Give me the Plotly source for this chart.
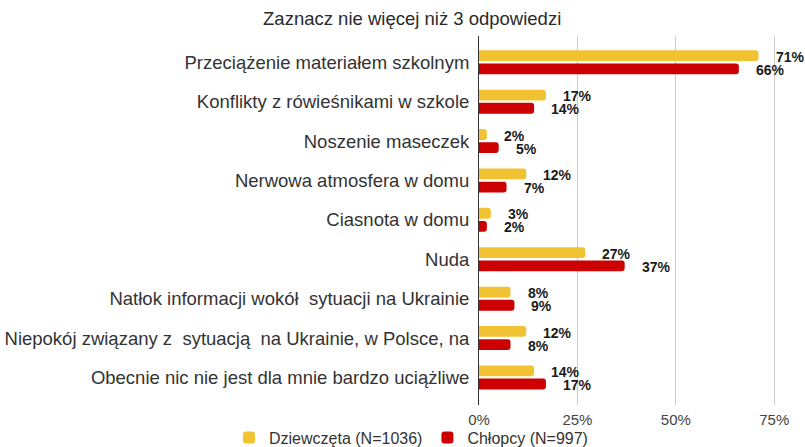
import plotly.graph_objects as go

categories = [
    "Przeciążenie materiałem szkolnym",
    "Konflikty z rówieśnikami w szkole",
    "Noszenie maseczek",
    "Nerwowa atmosfera w domu",
    "Ciasnota w domu",
    "Nuda",
    "Natłok informacji wokół  sytuacji na Ukrainie",
    "Niepokój związany z  sytuacją  na Ukrainie, w Polsce, na",
    "Obecnie nic nie jest dla mnie bardzo uciążliwe",
]
girls = [71, 17, 2, 12, 3, 27, 8, 12, 14]
boys = [66, 14, 5, 7, 2, 37, 9, 8, 17]
series_names = ["Dziewczęta (N=1036)", "Chłopcy (N=997)"]
colors = ["#F1C232", "#CC0000"]
tick_vals = [0, 25, 50, 75]
tick_text = ["0%", "25%", "50%", "75%"]

FONT = "Liberation Sans, Arial, sans-serif"

fig = go.Figure()
for name, vals, col in zip(series_names, [girls, boys], colors):
    fig.add_trace(go.Bar(
        y=categories, x=vals, name=name, orientation="h",
        marker=dict(color=col, cornerradius=3, line=dict(width=0)),
        hoverinfo="x+name",
    ))

# value labels, placed relative to each bar end
label_shifts = [5.5, -7.5]
for vals, ys in zip([girls, boys], label_shifts):
    for cat, v in zip(categories, vals):
        fig.add_annotation(
            x=v, y=cat, xref="x", yref="y", text=f"{v}%", showarrow=False,
            xanchor="left", yanchor="middle", xshift=15, yshift=ys,
            font=dict(family=FONT, size=14, color="#1a1a1a", weight="bold"),
        )

fig.update_layout(
    width=805, height=447,
    margin=dict(l=479, r=0, t=36, b=42, autoexpand=False),
    barmode="group", bargap=0.33, bargroupgap=0.18,
    paper_bgcolor="white", plot_bgcolor="white",
    font=dict(family=FONT, size=18, color="#333333"),
    title=dict(text="Zaznacz nie więcej niż 3 odpowiedzi", x=0.512, xanchor="center",
               y=1 - 19 / 447, yanchor="middle", font=dict(size=18.5, color="#2a2a2a")),
    xaxis=dict(range=[0, 82.8], tickvals=tick_vals, ticktext=tick_text,
               showgrid=True, gridcolor="#CCCCCC", gridwidth=1,
               zeroline=False, showline=False, ticks="", automargin=False,
               tickfont=dict(size=15, color="#444444"), ticklabelstandoff=4),
    yaxis=dict(range=[8.70, -0.667], showline=True, linecolor="#333333", linewidth=1,
               ticks="", ticklabelstandoff=5, automargin=False,
               tickfont=dict(size=18.5, color="#333333")),
    legend=dict(orientation="h", xref="paper", yref="paper",
                x=(229 - 479) / 326, xanchor="left", y=-0.042, yanchor="top",
                font=dict(size=16, color="#333333"),
                traceorder="normal", bgcolor="rgba(0,0,0,0)"),
    showlegend=True,
)

fig.write_html("out.html", config={"displayModeBar": False},
               post_script="document.body.style.margin='0';")
